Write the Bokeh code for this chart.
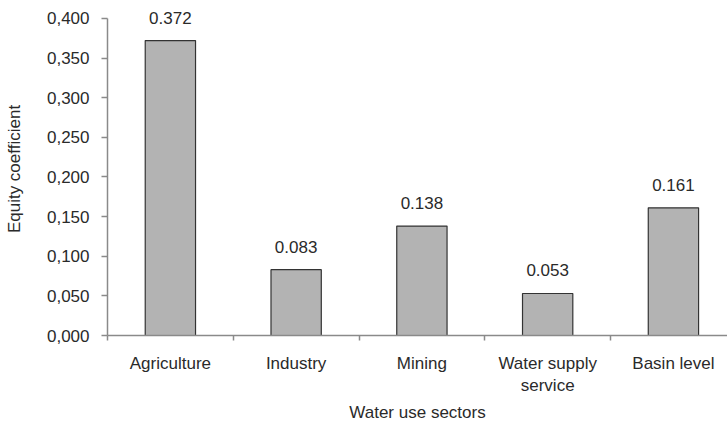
from bokeh.plotting import figure
from bokeh.models import Range1d, FixedTicker, ColumnDataSource, LabelSet
from bokeh.core.properties import value
from bokeh.embed import file_html
from bokeh.resources import INLINE

sectors = ["Agriculture", "Industry", "Mining", "Water supply\nservice", "Basin level"]
equity = [0.372, 0.083, 0.138, 0.053, 0.161]
value_labels = ["0.372", "0.083", "0.138", "0.053", "0.161"]
y_ticks = [0.0, 0.05, 0.1, 0.15, 0.2, 0.25, 0.3, 0.35, 0.4]
y_tick_labels = ["0,000", "0,050", "0,100", "0,150", "0,200", "0,250", "0,300", "0,350", "0,400"]

FONT = "Liberation Sans"
TXT = "#2a2a2a"
AXC = "#8a8a8a"

centers = [i + 0.5 for i in range(len(sectors))]
bounds = list(range(len(sectors) + 1))

src = ColumnDataSource(dict(x=centers, top=equity, label=value_labels))

p = figure(width=727, height=425, output_backend="svg", toolbar_location=None,
           x_range=Range1d(0, 4.93), y_range=Range1d(0, 0.42),
           min_border_left=107, min_border_right=0, min_border_top=2, min_border_bottom=90)
p.outline_line_color = None
p.xgrid.visible = False
p.ygrid.visible = False

p.vbar(x="x", top="top", width=0.4, source=src, fill_color="#b3b3b3",
       line_color="#333333", line_width=1.2)

labels = LabelSet(x="x", y="top", text="label", source=src, text_align="center",
                  text_baseline="alphabetic", y_offset=17, text_font_size="17px",
                  text_font=value(FONT), text_color=TXT)
p.add_layout(labels)

xa = p.xaxis[0]
xa.ticker = FixedTicker(ticks=centers, minor_ticks=bounds)
xa.major_label_overrides = {c: s for c, s in zip(centers, sectors)}
xa.major_tick_line_color = None
xa.major_tick_out = 0
xa.major_tick_in = 0
xa.minor_tick_out = 5
xa.minor_tick_in = 0
xa.minor_tick_line_color = AXC
xa.minor_tick_line_width = 1.5
xa.major_label_standoff = 13
xa.axis_label = "Water use sectors"
xa.axis_label_standoff = 5

ya = p.yaxis[0]
ya.ticker = FixedTicker(ticks=y_ticks, minor_ticks=[])
ya.bounds = (0, 0.4)
ya.major_label_overrides = {t: s for t, s in zip(y_ticks, y_tick_labels)}
ya.major_tick_out = 6
ya.major_tick_in = 0
ya.major_tick_line_color = AXC
ya.major_tick_line_width = 1.5
ya.major_label_standoff = 12
ya.axis_label = "Equity coefficient"
ya.axis_label_standoff = 20

for ax in (xa, ya):
    ax.axis_line_color = AXC
    ax.axis_line_width = 1.5
    ax.major_label_text_font = FONT
    ax.major_label_text_font_size = "17px"
    ax.major_label_text_color = TXT
    ax.axis_label_text_font = FONT
    ax.axis_label_text_font_size = "17px"
    ax.axis_label_text_font_style = "normal"
    ax.axis_label_text_color = TXT

open("out.html", "w").write(file_html(p, INLINE))
